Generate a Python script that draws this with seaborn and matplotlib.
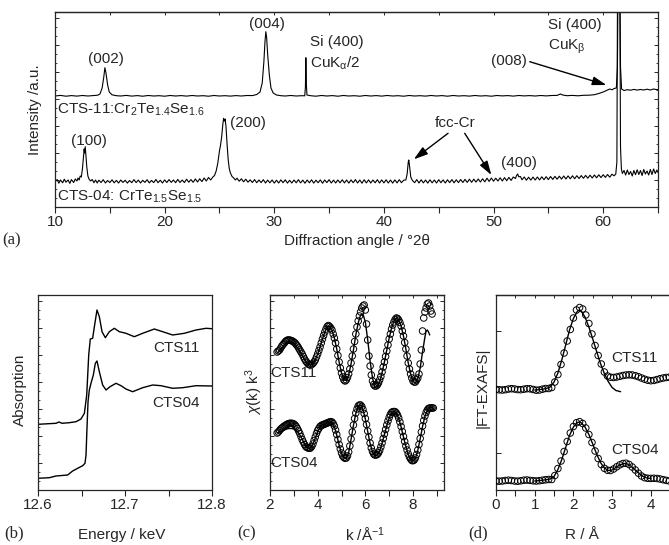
import numpy as np
import matplotlib
matplotlib.use('Agg')
import matplotlib.pyplot as plt
from matplotlib.ticker import MultipleLocator, FixedLocator, FormatStrFormatter
import seaborn as sns

# ---------------- data ----------------
# (a) XRD, intensity in arbitrary units (0..195 = axis height)
xrd11_tt = [10.0, 10.5, 11.0, 11.5, 12.0, 12.5, 13.0, 13.5, 13.9, 14.1, 14.3, 14.45, 14.55, 14.65, 14.8,
            14.95, 15.2, 15.6, 16.0, 16.5, 17.0, 17.5, 18.0, 18.5, 19.0, 19.5, 20.0, 20.5, 21.0, 21.5,
            22.0, 22.5, 23.0, 23.5, 24.0, 24.5, 25.0, 25.5, 26.0, 26.5, 27.0, 27.5, 28.0, 28.4, 28.7,
            28.9, 29.05, 29.15, 29.23, 29.3, 29.4, 29.55, 29.7, 29.9, 30.2, 30.6, 31.0, 31.5, 32.0, 32.5,
            32.78, 32.84, 32.88, 32.93, 32.98, 33.3, 33.8, 34.3, 34.8, 35.3, 35.8, 36.3, 36.8, 37.3, 37.8,
            38.3, 38.8, 39.3, 39.8, 40.3, 40.8, 41.3, 41.8, 42.3, 42.8, 43.3, 43.8, 44.3, 44.8, 45.3,
            45.8, 46.3, 46.8, 47.3, 47.8, 48.3, 48.8, 49.3, 49.8, 50.3, 50.8, 51.3, 51.8, 52.3, 52.8,
            53.3, 53.8, 54.3, 54.8, 55.3, 55.8, 56.1, 56.3, 56.7, 57.2, 57.7, 58.2, 58.7, 59.2, 59.6,
            60.0, 60.3, 60.6, 60.8, 61.0, 61.2, 61.3, 61.38, 61.5, 61.58, 61.68, 61.9, 62.2, 62.5, 62.8,
            63.1, 63.4, 63.7, 64.0, 64.3, 64.6, 64.9, 65.0]
xrd11_int = [111.0, 111.6, 110.8, 111.4, 110.9, 111.5, 111.0, 111.4, 111.8, 113.0, 119.0, 130.0, 139.3, 134.0, 122.0,
             115.0, 112.2, 111.3, 111.0, 111.6, 110.9, 111.4, 110.8, 111.5, 111.0, 111.3, 110.8, 111.5, 111.0, 111.4,
             110.9, 111.5, 111.0, 111.3, 110.8, 111.5, 111.0, 111.3, 110.9, 111.4, 111.0, 111.5, 111.4, 112.5, 115.0,
             124.0, 145.0, 165.0, 175.3, 170.0, 152.0, 132.0, 119.0, 114.0, 112.0, 111.3, 111.0, 111.5, 111.0, 111.3,
             111.2, 120.0, 149.3, 122.0, 112.0, 111.3, 110.8, 111.5, 111.0, 111.4, 110.8, 111.5, 111.0, 111.3, 110.8,
             111.5, 111.0, 111.4, 110.9, 111.5, 111.0, 111.3, 110.8, 111.5, 111.0, 111.3, 110.9, 111.5, 111.0, 111.4,
             110.8, 111.5, 111.0, 111.3, 110.9, 111.5, 111.0, 111.3, 110.8, 111.5, 111.1, 111.4, 110.9, 111.5, 111.1,
             111.4, 111.0, 111.5, 111.1, 111.5, 111.6, 113.0, 112.0, 111.3, 111.6, 111.2, 111.7, 111.8, 112.3, 113.5,
             115.0, 116.5, 118.0, 117.2, 118.5, 119.0, 140.0, 260.0, 260.0, 140.0, 118.0, 116.5, 117.3, 116.8, 117.6,
             116.9, 117.5, 117.0, 117.8, 117.0, 118.0, 117.3, 117.6]

xrd04_tt = [10.0, 10.2, 10.35, 10.5, 10.7, 10.85, 11.0, 11.2, 11.35, 11.5, 11.7, 11.85, 12.0, 12.1, 12.2,
            12.3, 12.4, 12.5, 12.6, 12.66, 12.7, 12.76, 12.82, 12.9, 13.0, 13.1, 13.25, 13.4, 13.55, 13.7,
            13.85, 14.0, 14.2, 14.4, 14.6, 14.8, 15.0, 15.2, 15.4, 15.6, 15.8, 16.0, 16.2, 16.4, 16.6,
            16.8, 17.0, 17.2, 17.4, 17.6, 17.8, 18.0, 18.2, 18.4, 18.6, 18.8, 19.0, 19.2, 19.4, 19.6,
            19.8, 20.0, 20.2, 20.4, 20.6, 20.8, 21.0, 21.2, 21.4, 21.6, 21.8, 22.0, 22.2, 22.4, 22.6,
            22.8, 23.0, 23.2, 23.4, 23.6, 23.8, 24.0, 24.2, 24.4, 24.55, 24.7, 24.85, 25.0, 25.1, 25.2,
            25.3, 25.38, 25.45, 25.52, 25.6, 25.7, 25.8, 25.9, 26.0, 26.15, 26.3, 26.45, 26.6, 26.8, 27.0,
            27.2, 27.4, 27.6, 27.8, 28.0, 28.2, 28.4, 28.6, 28.8, 29.0, 29.2, 29.4, 29.6, 29.8, 30.0,
            30.2, 30.4, 30.6, 30.8, 31.0, 31.2, 31.4, 31.6, 31.8, 32.0, 32.2, 32.4, 32.6, 32.8, 33.0,
            33.2, 33.4, 33.6, 33.8, 34.0, 34.2, 34.4, 34.6, 34.8, 35.0, 35.2, 35.4, 35.6, 35.8, 36.0,
            36.2, 36.4, 36.6, 36.8, 37.0, 37.2, 37.4, 37.6, 37.8, 38.0, 38.2, 38.4, 38.6, 38.8, 39.0,
            39.2, 39.4, 39.6, 39.8, 40.0, 40.2, 40.4, 40.6, 40.8, 41.0, 41.2, 41.4, 41.6, 41.8, 42.0,
            42.12, 42.22, 42.27, 42.35, 42.45, 42.6, 42.8, 43.0, 43.2, 43.4, 43.6, 43.8, 44.0, 44.2, 44.4,
            44.6, 44.8, 45.0, 45.2, 45.4, 45.6, 45.8, 46.0, 46.2, 46.4, 46.6, 46.8, 47.0, 47.2, 47.4,
            47.6, 47.8, 48.0, 48.2, 48.4, 48.6, 48.8, 49.0, 49.2, 49.4, 49.6, 49.8, 50.0, 50.2, 50.4,
            50.6, 50.8, 51.0, 51.2, 51.4, 51.6, 51.8, 52.0, 52.1, 52.2, 52.3, 52.45, 52.6, 52.8, 53.0,
            53.2, 53.4, 53.6, 53.8, 54.0, 54.2, 54.4, 54.6, 54.8, 55.0, 55.2, 55.4, 55.6, 55.8, 56.0,
            56.2, 56.4, 56.6, 56.8, 57.0, 57.2, 57.4, 57.6, 57.8, 58.0, 58.2, 58.4, 58.6, 58.8, 59.0,
            59.2, 59.4, 59.6, 59.8, 60.0, 60.2, 60.4, 60.6, 60.8, 61.0, 61.15, 61.25, 61.32, 61.5, 61.58,
            61.66, 61.75, 61.9, 62.05, 62.2, 62.35, 62.5, 62.65, 62.8, 62.95, 63.1, 63.25, 63.4, 63.55, 63.7,
            63.85, 64.0, 64.15, 64.3, 64.45, 64.6, 64.75, 64.9, 65.0]
xrd04_int = [25.0, 27.5, 23.8, 27.0, 24.2, 27.8, 24.8, 27.0, 23.6, 27.4, 24.5, 28.0, 26.0, 29.0, 27.0,
             31.0, 30.0, 38.0, 50.0, 58.0, 54.0, 60.3, 52.0, 40.0, 31.0, 28.0, 26.0, 27.5, 24.3, 27.0,
             24.0, 26.8, 24.5, 27.3, 24.0, 26.5, 24.4, 27.2, 24.2, 26.6, 24.0, 27.0, 24.5, 26.8, 23.9,
             26.5, 24.3, 27.4, 24.4, 26.9, 24.0, 26.7, 24.6, 27.3, 24.1, 26.6, 24.4, 27.5, 24.3, 26.8,
             24.0, 27.1, 24.5, 27.4, 24.6, 27.0, 24.3, 27.6, 24.5, 27.0, 24.4, 27.8, 24.8, 27.4, 24.7,
             28.0, 25.0, 28.2, 25.4, 29.0, 26.0, 29.5, 27.0, 30.0, 31.5, 36.0, 44.0, 56.0, 62.0, 70.0,
             82.0, 88.7, 86.0, 88.0, 80.0, 62.0, 47.0, 38.0, 34.0, 30.5, 29.0, 27.0, 28.8, 25.8, 28.2,
             25.2, 27.8, 24.8, 27.2, 24.5, 27.4, 24.3, 27.0, 24.4, 27.3, 24.0, 26.9, 24.2, 27.0, 23.9,
             26.8, 24.0, 27.1, 24.3, 27.2, 23.9, 26.7, 24.0, 27.0, 24.2, 27.3, 24.1, 26.9, 23.8, 27.0,
             24.2, 27.2, 23.9, 26.8, 24.3, 27.1, 23.8, 27.0, 24.4, 27.3, 24.0, 26.9, 24.0, 27.0, 24.2,
             27.2, 24.1, 27.0, 23.9, 27.1, 24.3, 27.4, 24.0, 27.0, 23.8, 27.2, 24.1, 27.1, 24.0, 27.0,
             24.2, 27.3, 24.0, 27.1, 24.1, 27.2, 24.0, 27.0, 23.9, 27.1, 24.1, 27.3, 24.3, 26.8, 27.0,
             33.0, 45.0, 47.0, 40.0, 30.0, 26.5, 24.3, 27.4, 24.0, 27.2, 24.1, 27.0, 23.9, 27.2, 24.2,
             27.0, 24.0, 27.3, 24.3, 27.1, 24.0, 27.2, 24.4, 27.4, 24.2, 27.2, 24.4, 27.5, 24.5, 27.6,
             24.6, 27.8, 24.7, 27.8, 24.9, 28.0, 25.0, 28.2, 25.2, 28.8, 25.6, 29.0, 25.8, 28.8, 26.0,
             29.2, 26.0, 29.4, 26.3, 29.6, 26.6, 30.0, 28.5, 31.5, 33.0, 30.2, 30.5, 27.2, 30.0, 26.8,
             29.8, 26.9, 29.9, 27.0, 30.0, 27.1, 30.2, 27.3, 30.3, 27.4, 30.5, 27.6, 30.6, 27.8, 30.8,
             27.9, 31.0, 28.0, 31.1, 28.2, 31.2, 28.3, 31.3, 28.5, 31.4, 28.7, 31.6, 28.8, 31.8, 29.0,
             32.0, 29.2, 32.2, 29.4, 32.3, 29.6, 32.5, 29.8, 32.8, 31.2, 33.0, 45.0, 260.0, 260.0, 60.0,
             38.0, 33.5, 36.5, 32.0, 37.0, 32.5, 35.5, 31.0, 36.5, 32.3, 37.2, 32.5, 36.5, 31.5, 37.5,
             33.0, 36.0, 32.0, 37.5, 32.5, 38.0, 33.5, 37.0, 34.5]

# (b) XANES, energy in keV
xas11_e = [12.6, 12.6207, 12.6241, 12.6276, 12.636, 12.6437, 12.6494, 12.6533, 12.656, 12.6583, 12.6601,
           12.6628, 12.6651, 12.6678, 12.6705, 12.6736, 12.6774, 12.682, 12.6877, 12.6935, 12.7011, 12.7107,
           12.7203, 12.7337, 12.7433, 12.7548, 12.7682, 12.7816, 12.7931, 12.8]
xas11_mu = [65.7, 66.7, 68.0, 66.7, 67.3, 68.3, 71.0, 76.7, 95.0, 135.0, 151.0,
            151.7, 165.0, 180.0, 173.3, 158.3, 152.3, 158.3, 161.7, 158.3, 156.7, 153.3,
            156.7, 161.0, 158.3, 155.0, 156.7, 160.0, 161.7, 161.3]
xas04_e = [12.6, 12.613, 12.6207, 12.6341, 12.6398, 12.6456, 12.6513, 12.654, 12.6552, 12.6563, 12.6575,
           12.659, 12.6609, 12.6636, 12.6659, 12.6678, 12.6705, 12.6743, 12.6782, 12.6828, 12.6897, 12.6954,
           12.7011, 12.7088, 12.7203, 12.7318, 12.7414, 12.7548, 12.7663, 12.7816, 12.8]
xas04_mu = [11.7, 12.3, 14.0, 15.0, 19.0, 21.7, 24.3, 26.7, 35.0, 61.7, 88.3,
            100.0, 106.7, 115.0, 126.7, 129.0, 118.3, 105.0, 100.0, 103.3, 106.7, 104.3,
            101.0, 98.3, 102.3, 105.0, 104.3, 101.7, 102.3, 104.3, 104.0]

# (c) EXAFS chi(k) k^3, measured (circles) and fit (line)
k11 = np.round(np.arange(2.30, 8.801, 0.05), 2)
chi11 = [138, 139, 140, 142, 144, 145.5, 147, 148.5, 149.5, 150,
         150, 149.8, 149.3, 148.8, 148, 147, 145.5, 144, 142, 140,
         138, 136, 133.5, 131, 129, 127.5, 126, 125.3, 125, 125.5,
         126.5, 128, 130, 133, 136, 139.5, 143, 147, 151, 154.5,
         158, 161, 163.5, 164.5, 163.5, 162, 160, 156, 152, 147,
         141, 134.5, 128, 122, 117, 113, 110, 109, 110, 112.5,
         116, 121, 127, 134, 141, 148.5, 156, 163, 169, 174,
         178, 182, 184, 185, 180, 166, 150, 134, 124, 115,
         109, 105.5, 104, 104, 105, 107, 110, 113.5, 118, 123,
         128, 133.5, 139, 145, 151, 156, 161, 165, 168, 170.5,
         172, 171.5, 170, 167.5, 164, 159, 154, 147.5, 141, 134,
         127, 121, 116, 112, 109, 108, 108, 110, 112, 116,
         126, 140, 159, 172, 178, 182, 186, 187, 184, 179,
         176]
kfit11 = list(np.round(np.arange(2.3, 8.51, 0.1), 2)) + [8.55, 8.6, 8.65, 8.7]
chifit11 = [137, 139, 142, 145, 147.5, 148.5, 148, 146.5, 144, 140.5,
            136.5, 132.5, 128.5, 126, 125, 126.5, 130, 136, 143, 151,
            158, 163.5, 163.5, 160, 152, 141, 128, 117, 110, 109.5,
            115, 126, 140, 155, 167, 175, 176, 168, 150, 129,
            112, 103, 103, 108, 117, 128, 140, 152, 162, 169,
            172, 170, 164, 154, 141, 127, 116, 108.5, 107, 111,
            122, 138, 153, 159, 160, 158, 155]

k04 = np.round(np.arange(2.30, 8.851, 0.05), 2)
chi04 = [57, 58, 59.5, 61, 62, 63, 64, 64.5, 65.5, 66,
         66.5, 66.7, 66.7, 66.5, 66, 65, 63.5, 61.5, 59, 56.5,
         53.5, 50.5, 48, 45.5, 43.5, 42.5, 42, 41.7, 42, 43.5,
         46, 49.5, 53, 56.5, 59.5, 61.5, 63.5, 64.5, 65, 65.5,
         66, 66.5, 67, 67.5, 68, 68.3, 68, 66.5, 64, 60,
         55.5, 50.5, 45.5, 41, 37, 34, 32.5, 31.7, 32, 34,
         38, 44, 51, 58, 65, 71.5, 77, 81, 84, 85,
         85, 83.5, 80.5, 76.5, 71.5, 65.5, 59, 53, 47, 42,
         38.5, 36, 35, 35, 35.5, 37, 39.5, 43, 47, 51.5,
         56, 60.5, 65, 69, 72.5, 75.5, 77.5, 78.3, 78.5, 78.3,
         77, 75, 72, 68, 63.5, 58.5, 53.5, 48.5, 44, 40,
         36, 33, 31, 29.5, 29.3, 30, 32, 35.5, 40, 45.5,
         51.5, 58, 64, 69.5, 74, 77.5, 80, 81.5, 82, 82,
         82, 82]
kfit04 = list(np.round(np.arange(2.3, 8.81, 0.1), 2)) + [8.85, 8.9]
chifit04 = [57, 58, 59, 60, 61, 61.5, 61.5, 61, 59.5, 57,
            53, 48.5, 44, 42, 42, 45.5, 52, 58.5, 63, 65,
            66, 67, 68, 67.5, 63.5, 55, 45, 36.5, 32, 32,
            37.5, 50.5, 64.5, 76.5, 83.5, 85, 80.5, 71, 58.5, 46.5,
            38, 34.5, 35, 39, 46.5, 55.5, 64.5, 72, 77, 78.5,
            77, 71.5, 63, 53, 43.5, 35.5, 30.5, 29, 31.5, 39.5,
            51, 63.5, 73.5, 79.5, 82, 83, 81, 80]

# (d) |FT-EXAFS|, measured (circles) and fit (line)
r_ft = np.round(np.arange(0, 4.481, 0.08), 2)
ft11 = [100.5, 100.2, 100.0, 100.3, 101.0, 101.3, 101.0, 100.4, 100.3, 100.8,
        101.3, 101.2, 100.5, 99.8, 100.0, 100.8, 101.5, 101.5, 102.5, 108.0,
        115.5, 125.5, 137.0, 149.0, 160.5, 172.0, 180.0, 182.5, 181.0, 175.0,
        166.5, 156.0, 144.5, 134.5, 126.0, 118.0, 114.0, 112.8, 112.5, 113.0,
        113.7, 114.5, 115.0, 115.2, 115.0, 114.3, 113.3, 112.0, 110.8, 109.8,
        109.3, 109.6, 110.4, 111.3, 112.0, 112.5, 112.8]
ft04 = [9.0, 8.8, 9.0, 9.5, 9.8, 9.5, 9.0, 8.8, 9.2, 9.8,
        10.0, 9.6, 9.2, 9.0, 9.3, 9.8, 10.2, 10.5, 10.5, 14.5,
        21.5, 29.0, 38.5, 48.5, 57.0, 63.5, 67.3, 68.3, 66.5, 62.0,
        55.5, 47.5, 39.0, 31.5, 25.5, 21.7, 19.8, 19.5, 21.0, 23.2,
        25.2, 26.5, 26.8, 25.5, 23.0, 20.0, 16.8, 14.0, 12.3, 11.7,
        11.6, 11.7, 11.5, 11.0, 10.3, 9.6, 9.0]
rfit11 = [1.0, 1.1, 1.2, 1.3, 1.4, 1.5, 1.6, 1.7, 1.8, 1.9, 2.0, 2.1, 2.15, 2.2,
          2.3, 2.4, 2.5, 2.6, 2.7, 2.8, 2.9, 3.0, 3.1, 3.22]
ftfit11 = [100.0, 100.2, 100.8, 101.5, 103.0, 108.0, 117.0, 130.0, 145.0, 160.0, 171.5, 178.5, 180.0, 179.0,
           173.0, 163.0, 151.0, 138.5, 126.5, 116.5, 108.5, 102.5, 99.5, 98.3]
rfit04 = [1.0, 1.1, 1.2, 1.3, 1.4, 1.5, 1.6, 1.7, 1.8, 1.9, 2.0, 2.1, 2.15, 2.2, 2.3, 2.4,
          2.5, 2.6, 2.7, 2.8, 2.9, 3.0, 3.1, 3.2, 3.3, 3.4, 3.5, 3.6, 3.7, 3.8, 3.9, 4.0]
ftfit04 = [9.0, 9.3, 9.8, 10.3, 11.0, 13.5, 20.5, 30.5, 42.5, 54.5, 63.0, 67.5, 68.0, 67.3, 63.0, 55.5,
           46.0, 36.0, 27.5, 22.0, 19.5, 20.0, 22.5, 25.0, 26.5, 26.0, 23.5, 20.0, 16.5, 13.5, 12.0, 11.5]

# ---------------- style ----------------
sns.set_style('ticks')
plt.rcParams['font.family'] = ['Liberation Sans', 'DejaVu Sans']
plt.rcParams['mathtext.fontset'] = 'custom'
plt.rcParams['mathtext.rm'] = 'Liberation Sans'
plt.rcParams['mathtext.it'] = 'Liberation Sans:italic'
plt.rcParams['mathtext.bf'] = 'Liberation Sans:bold'
plt.rcParams['axes.linewidth'] = 0.9

W, H = 669, 545
FS = 11
SERIF = ['Liberation Serif', 'DejaVu Serif']


def rect(l, t, r, b):
    return [l / W, 1 - b / H, (r - l) / W, (b - t) / H]


def ftxt(x, y, s, **kw):
    kw.setdefault('fontsize', FS)
    kw.setdefault('ha', 'center')
    kw.setdefault('va', 'center')
    fig.text(x / W, 1 - y / H, s, **kw)


def style_x(ax, major, minor, top=True):
    ax.xaxis.set_major_locator(MultipleLocator(major))
    ax.xaxis.set_minor_locator(MultipleLocator(minor))
    ax.tick_params(axis='x', which='both', direction='out', length=4, width=0.8,
                   labelsize=FS, pad=2, bottom=True, top=False)
    if top:
        sec = ax.secondary_xaxis('top')
        sec.xaxis.set_major_locator(MultipleLocator(major))
        sec.xaxis.set_minor_locator(MultipleLocator(minor))
        sec.tick_params(which='both', direction='in', length=2.5, width=0.7, labeltop=False)
        sec.spines['top'].set_linewidth(0.9)


def line(ax, x, y, lw=0.9):
    sns.lineplot(x=x, y=y, ax=ax, color='black', linewidth=lw, sort=False, estimator=None)


def circles(ax, x, y):
    sns.scatterplot(x=x, y=y, ax=ax, marker='o', s=22, facecolor='none',
                    edgecolor='black', linewidth=0.7, zorder=3)


fig = plt.figure(figsize=(W / 100, H / 100), dpi=100)

# ---------------- (a) XRD ----------------
ax = fig.add_axes(rect(55, 12, 658, 207))
line(ax, xrd11_tt, xrd11_int, lw=0.8)
line(ax, xrd04_tt, xrd04_int, lw=0.8)
ax.set_xlim(10, 65)
ax.set_ylim(0, 195)
style_x(ax, 10, 5)
ax.yaxis.set_major_locator(MultipleLocator(27))
ax.yaxis.set_minor_locator(MultipleLocator(9))
ax.tick_params(axis='y', which='major', direction='in', length=3, width=0.7,
               left=True, right=True, labelleft=False)
ax.tick_params(axis='y', which='minor', direction='in', length=1.5, width=0.6,
               left=True, right=True)
ax.set_xlabel('')
ax.set_ylabel('')

ax.text(14.62, 148, '(002)', fontsize=FS, ha='center', va='center')
ax.text(29.3, 183, '(004)', fontsize=FS, ha='center', va='center')
ax.text(33.25, 165, 'Si (400)', fontsize=FS, ha='left', va='center')
ax.text(33.25, 143.7, r'CuK$_{\mathrm{\alpha}}$/2', fontsize=FS, ha='left', va='center')
ax.text(54.94, 182, 'Si (400)', fontsize=FS, ha='left', va='center')
ax.text(54.94, 160, r'CuK$_{\mathrm{\beta}}$', fontsize=FS, ha='left', va='center')
ax.text(51.39, 146, '(008)', fontsize=FS, ha='center', va='center')
ax.text(46.46, 83.7, 'fcc-Cr', fontsize=FS, ha='center', va='center')
ax.text(52.3, 43.7, '(400)', fontsize=FS, ha='center', va='center')
ax.text(13.13, 66.3, '(100)', fontsize=FS, ha='center', va='center')
ax.text(25.95, 83.7, '(200)', fontsize=FS, ha='left', va='center')
ax.text(10.18, 97, r'CTS-11:Cr$_2$Te$_{1.4}$Se$_{1.6}$', fontsize=FS, ha='left', va='center')
ax.text(10.18, 10, r'CTS-04: CrTe$_{1.5}$Se$_{1.5}$', fontsize=FS, ha='left', va='center')

arrow = dict(arrowstyle='-|>,head_length=0.7,head_width=0.22', color='black', lw=1.0,
             shrinkA=0, shrinkB=0, mutation_scale=12)
ax.annotate('', xy=(60.29, 122), xytext=(53.3, 145.3), arrowprops=arrow)
ax.annotate('', xy=(42.73, 47.7), xytext=(45.85, 73.7), arrowprops=arrow)
ax.annotate('', xy=(49.8, 32), xytext=(47.37, 73.7), arrowprops=arrow)

ftxt(35, 110, 'Intensity /a.u.', rotation=90)
ftxt(357, 241, 'Diffraction angle / °2θ')
ftxt(12, 240, '(a)', family=SERIF, fontsize=12)

# ---------------- (b) XANES ----------------
ax = fig.add_axes(rect(38, 295, 212, 490))
line(ax, xas11_e, xas11_mu, lw=1.0)
line(ax, xas04_e, xas04_mu, lw=1.0)
ax.set_xlim(12.6, 12.8)
ax.set_ylim(0, 195)
style_x(ax, 0.1, 0.05, top=False)
ax.xaxis.set_major_formatter(FormatStrFormatter('%.1f'))
ax.yaxis.set_major_locator(MultipleLocator(27))
ax.yaxis.set_minor_locator(MultipleLocator(9))
ax.tick_params(axis='y', which='major', direction='in', length=3, width=0.7, labelleft=False)
ax.tick_params(axis='y', which='minor', direction='in', length=1.5, width=0.6)
ax.set_xlabel('')
ax.set_ylabel('')
ax.text(12.7586, 141.7, 'CTS11', fontsize=FS, ha='center', va='center')
ax.text(12.7586, 86.7, 'CTS04', fontsize=FS, ha='center', va='center')
ftxt(20, 390, 'Absorption', rotation=90)
ftxt(122, 535, 'Energy / keV')
ftxt(14, 533, '(b)', family=SERIF, fontsize=12)

# ---------------- (c) chi(k) ----------------
ax = fig.add_axes(rect(270, 295, 444, 490))
line(ax, kfit11, chifit11, lw=1.0)
line(ax, kfit04, chifit04, lw=1.0)
circles(ax, k11, chi11)
circles(ax, k04, chi04)
ax.set_xlim(2, 9.3)
ax.set_ylim(0, 195)
style_x(ax, 2, 1)
ax.yaxis.set_major_locator(MultipleLocator(27))
ax.yaxis.set_minor_locator(MultipleLocator(9))
ax.tick_params(axis='y', which='major', direction='in', length=3, width=0.7,
               left=True, right=True, labelleft=False)
ax.tick_params(axis='y', which='minor', direction='in', length=1.5, width=0.6,
               left=True, right=True)
ax.set_xlabel('')
ax.set_ylabel('')
ax.text(2.03, 116.7, 'CTS11', fontsize=FS, ha='left', va='center')
ax.text(2.03, 26.7, 'CTS04', fontsize=FS, ha='left', va='center')
ftxt(254, 392, r'$\chi$(k) k$^3$', rotation=90)
ftxt(365, 535, r'k /Å$^{-1}$')
ftxt(247, 533, '(c)', family=SERIF, fontsize=12)

# ---------------- (d) |FT| ----------------
ax = fig.add_axes(rect(496, 295, 689.5, 490))
line(ax, rfit11, ftfit11, lw=1.0)
line(ax, rfit04, ftfit04, lw=1.0)
circles(ax, r_ft, ft11)
circles(ax, r_ft, ft04)
ax.set_xlim(0, 5)
ax.set_ylim(0, 195)
style_x(ax, 1, 0.5)
ax.xaxis.set_major_locator(FixedLocator([0, 1, 2, 3, 4]))
ax.yaxis.set_major_locator(FixedLocator([36.7, 159.3]))
ax.tick_params(axis='y', which='major', direction='in', length=3.5, width=0.7, labelleft=False)
ax.set_xlabel('')
ax.set_ylabel('')
ax.text(2.98, 131.7, 'CTS11', fontsize=FS, ha='left', va='center')
ax.text(2.98, 40, 'CTS04', fontsize=FS, ha='left', va='center')
ftxt(483, 388, '|FT-EXAFS|', rotation=90)
ftxt(582, 535, 'R / Å')
ftxt(478, 533, '(d)', family=SERIF, fontsize=12)

fig.savefig('out.png', dpi=100)
